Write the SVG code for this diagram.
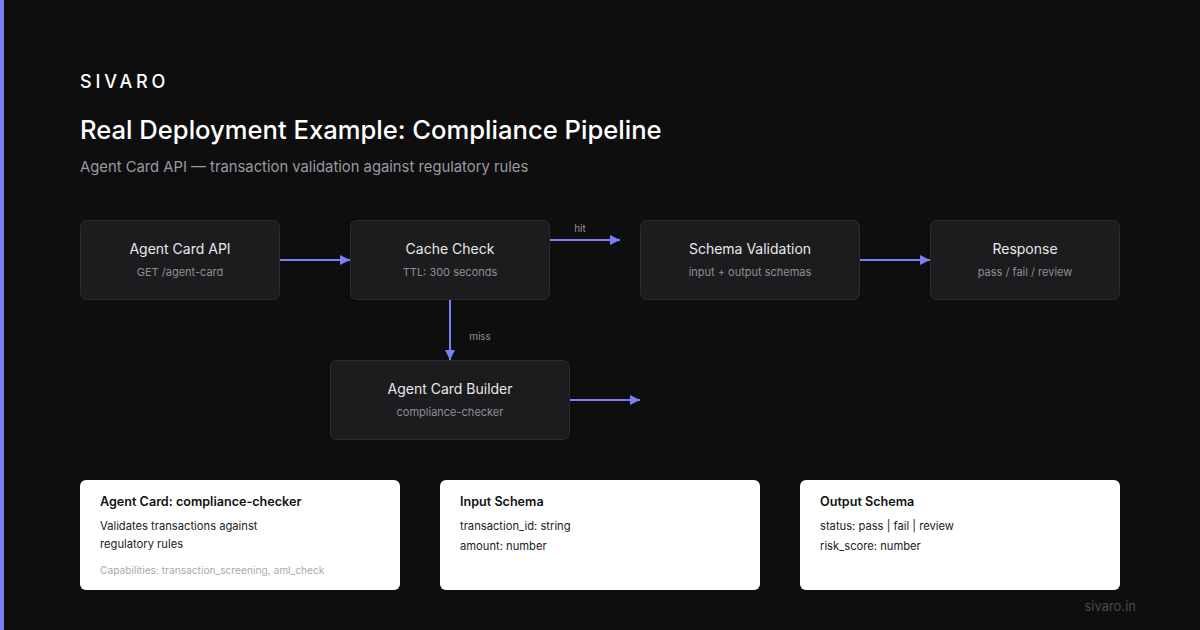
<svg xmlns="http://www.w3.org/2000/svg" width="1200" height="630" viewBox="0 0 1200 630">
<defs>
<style>
.node rect{fill:#1c1c1e;stroke:#2c2c2f;stroke-width:1}
.nt{font-family:Inter,"Liberation Sans",sans-serif;font-size:14px;fill:#e8e8ea;text-anchor:middle}
.ns{font-family:Inter,"Liberation Sans",sans-serif;font-size:11px;fill:#8e8e96;text-anchor:middle}
.card rect{fill:#ffffff}
.ct{font-family:Inter,"Liberation Sans",sans-serif;font-size:12.6px;font-weight:600;fill:#111}
.cl{font-family:Inter,"Liberation Sans",sans-serif;font-size:11.2px;fill:#222}
.cc{font-family:Inter,"Liberation Sans",sans-serif;font-size:10.2px;fill:#a8a8b0}
.conn line{stroke:#7b80f5;stroke-width:2}
.lbl{font-family:Inter,"Liberation Sans",sans-serif;font-size:10px;fill:#8e8e96}
</style>
<marker id="ah" viewBox="0 0 10 10" refX="10" refY="5" markerWidth="10" markerHeight="10" markerUnits="userSpaceOnUse" orient="auto"><path d="M0,0 L10,5 L0,10 z" fill="#7b80f5"/></marker>
</defs>
<rect x="0" y="0" width="1200" height="630" fill="#0e0e0f"/>
<rect x="0" y="0" width="4" height="630" fill="#7b80f5"/>
<text x="80" y="88" font-family="Inter,'Liberation Sans',sans-serif" font-size="18" font-weight="500" letter-spacing="3.8" fill="#ffffff">SIVARO</text>
<text x="80" y="139" font-family="Inter,'Liberation Sans',sans-serif" font-size="25.6" font-weight="500" fill="#ffffff">Real Deployment Example: Compliance Pipeline</text>
<text x="80" y="172" font-family="Inter,'Liberation Sans',sans-serif" font-size="14.8" fill="#9a9aa2">Agent Card API — transaction validation against regulatory rules</text>

<g id="connectors" class="conn">
<line x1="280" y1="260" x2="350" y2="260" marker-end="url(#ah)"/>
<line x1="550" y1="240" x2="620" y2="240" marker-end="url(#ah)"/>
<line x1="860" y1="260" x2="930" y2="260" marker-end="url(#ah)"/>
<line x1="450" y1="300" x2="450" y2="360" marker-end="url(#ah)"/>
<line x1="570" y1="400" x2="640" y2="400" marker-end="url(#ah)"/>
<text class="lbl" x="580" y="232" text-anchor="middle">hit</text>
<text class="lbl" x="480" y="340" text-anchor="middle">miss</text>
</g>

<g id="n-api" class="node"><rect x="80.5" y="220.5" width="199" height="79" rx="6"/><text class="nt" x="180" y="254">Agent Card API</text><text class="ns" x="180" y="276">GET /agent-card</text></g>
<g id="n-cache" class="node"><rect x="350.5" y="220.5" width="199" height="79" rx="6"/><text class="nt" x="450" y="254">Cache Check</text><text class="ns" x="450" y="276">TTL: 300 seconds</text></g>
<g id="n-schema" class="node"><rect x="640.5" y="220.5" width="219" height="79" rx="6"/><text class="nt" x="750" y="254">Schema Validation</text><text class="ns" x="750" y="276">input + output schemas</text></g>
<g id="n-resp" class="node"><rect x="930.5" y="220.5" width="189" height="79" rx="6"/><text class="nt" x="1025" y="254">Response</text><text class="ns" x="1025" y="276">pass / fail / review</text></g>
<g id="n-builder" class="node"><rect x="330.5" y="360.5" width="239" height="79" rx="6"/><text class="nt" x="450" y="394">Agent Card Builder</text><text class="ns" x="450" y="416">compliance-checker</text></g>

<g id="c-agent" class="card"><rect x="80" y="480" width="320" height="110" rx="6"/><text class="ct" x="100" y="506">Agent Card: compliance-checker</text><text class="cl" x="100" y="530">Validates transactions against</text><text class="cl" x="100" y="548">regulatory rules</text><text class="cc" x="100" y="574">Capabilities: transaction_screening, aml_check</text></g>
<g id="c-input" class="card"><rect x="440" y="480" width="320" height="110" rx="6"/><text class="ct" x="460" y="506">Input Schema</text><text class="cl" x="460" y="530">transaction_id: string</text><text class="cl" x="460" y="550">amount: number</text></g>
<g id="c-output" class="card"><rect x="800" y="480" width="320" height="110" rx="6"/><text class="ct" x="820" y="506">Output Schema</text><text class="cl" x="820" y="530">status: pass | fail | review</text><text class="cl" x="820" y="550">risk_score: number</text></g>

<text x="1136" y="611" text-anchor="end" font-family="Inter,'Liberation Sans',sans-serif" font-size="13" fill="#4a4a50">sivaro.in</text>
</svg>
